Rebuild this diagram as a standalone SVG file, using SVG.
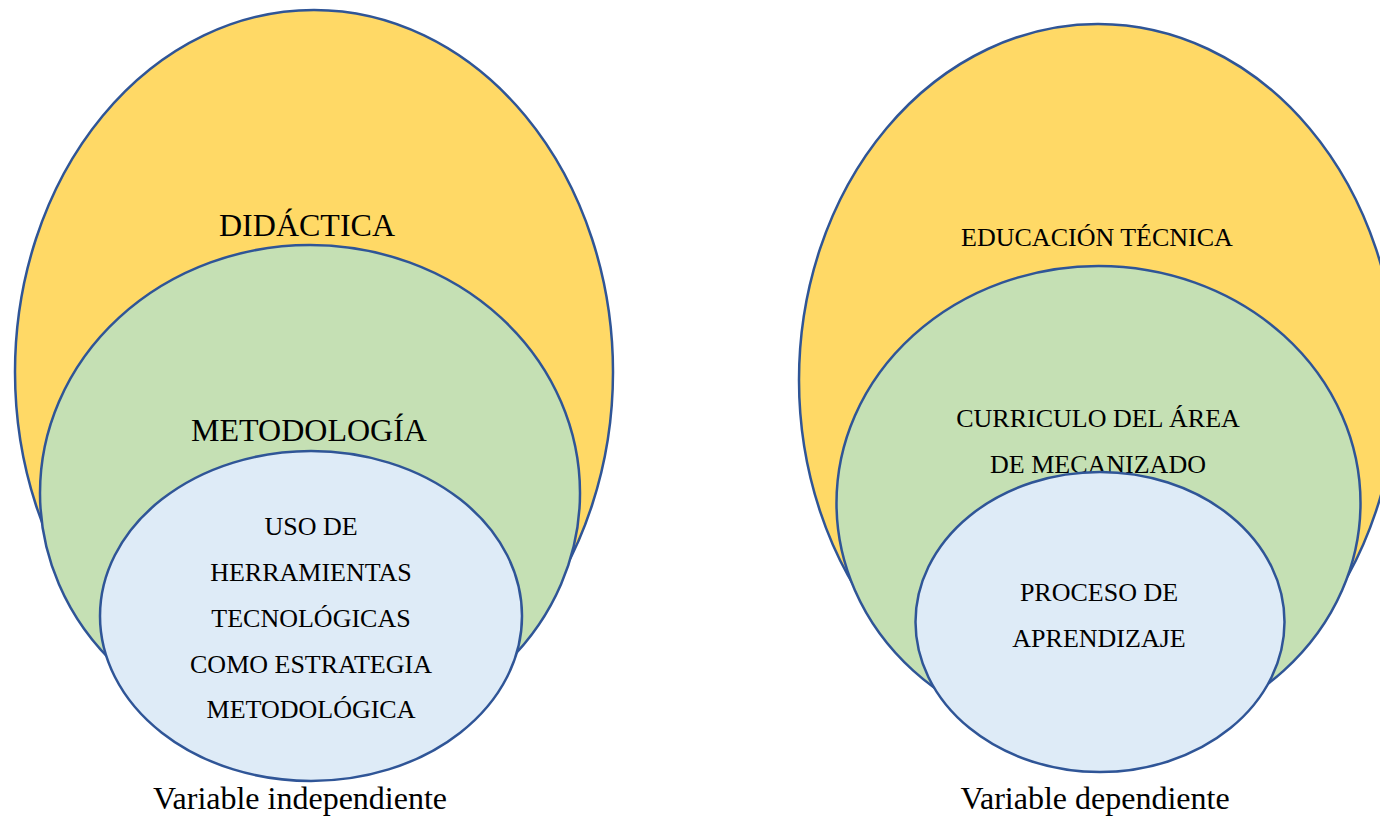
<svg xmlns="http://www.w3.org/2000/svg" width="1380" height="819" viewBox="0 0 1380 819">
<style>
.e{stroke:#2F5597;stroke-width:2.5}
.y{fill:#FFD966}
.g{fill:#C5E0B4}
.b{fill:#DEEBF7}
text{font-family:"Liberation Serif","Times New Roman",serif;fill:#000;text-anchor:middle}
.l{font-size:32px}
.s{font-size:26px}
</style>
<rect width="1380" height="819" fill="#fff"/>
<g id="connectors"></g>
<g id="didactica">
<ellipse class="e y" cx="314" cy="372" rx="299" ry="362"/>
<text class="l" x="307" y="236">DIDÁCTICA</text>
</g>
<g id="metodologia">
<ellipse class="e g" cx="310" cy="493" rx="270" ry="248"/>
<text class="l" x="309" y="441">METODOLOGÍA</text>
</g>
<g id="uso-herramientas">
<ellipse class="e b" cx="311" cy="616" rx="211" ry="165"/>
<text class="s" x="311" y="535">USO DE</text>
<text class="s" x="311" y="581">HERRAMIENTAS</text>
<text class="s" x="311" y="627">TECNOLÓGICAS</text>
<text class="s" x="311" y="673">COMO ESTRATEGIA</text>
<text class="s" x="311" y="718">METODOLÓGICA</text>
</g>
<g id="label-independiente">
<text class="l" x="300" y="809">Variable independiente</text>
</g>
<g id="educacion-tecnica">
<ellipse class="e y" cx="1098" cy="380" rx="299" ry="356"/>
<text class="s" x="1097" y="246">EDUCACIÓN TÉCNICA</text>
</g>
<g id="curriculo">
<ellipse class="e g" cx="1098.5" cy="503" rx="262" ry="237"/>
<text class="s" x="1098" y="427">CURRICULO DEL ÁREA</text>
<text class="s" x="1098" y="473">DE MECANIZADO</text>
</g>
<g id="proceso-aprendizaje">
<ellipse class="e b" cx="1100" cy="622" rx="184.5" ry="150"/>
<text class="s" x="1099" y="601">PROCESO DE</text>
<text class="s" x="1099" y="647">APRENDIZAJE</text>
</g>
<g id="label-dependiente">
<text class="l" x="1095" y="809">Variable dependiente</text>
</g>
</svg>
